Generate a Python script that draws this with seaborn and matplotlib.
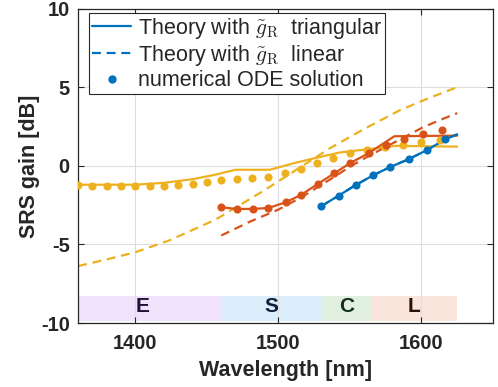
import numpy as np
import pandas as pd
import matplotlib.pyplot as plt
import seaborn as sns
from matplotlib.lines import Line2D

sns.set_theme(style="ticks")
plt.rcParams["font.family"] = ["Liberation Sans", "DejaVu Sans"]
plt.rcParams["mathtext.fontset"] = "cm"
plt.rcParams["axes.unicode_minus"] = False

# === DATA ===
# yellow (E-band start) channel
yel_ode_wl = [1360, 1370, 1380, 1390, 1400, 1410, 1420, 1430, 1440, 1450, 1460, 1471,
              1481.5, 1493, 1504.5, 1515.5, 1527, 1538, 1550, 1562, 1574.5, 1587, 1600, 1613]
yel_ode_db = [-1.2, -1.27, -1.27, -1.31, -1.31, -1.31, -1.27, -1.24, -1.14, -1.01, -0.93, -0.84,
              -0.78, -0.68, -0.46, -0.17, 0.19, 0.49, 0.8, 1.01, 1.22, 1.33, 1.5, 1.65]
yel_tri_wl = [1360, 1380, 1400, 1420, 1440, 1455, 1470, 1494, 1510, 1526, 1543, 1562, 1582, 1625]
yel_tri_db = [-1.2, -1.2, -1.2, -1.08, -0.85, -0.58, -0.25, -0.25, 0.15, 0.5, 0.85, 1.05, 1.27, 1.22]
yel_lin_wl = [1360, 1380, 1400, 1424, 1456, 1489, 1510, 1536, 1560, 1585, 1605, 1625]
yel_lin_db = [-6.37, -5.95, -5.49, -4.73, -3.42, -1.62, -0.4, 1.12, 2.35, 3.54, 4.3, 5.0]

# orange (S-band start) channel
red_ode_wl = [1460, 1471, 1482, 1493, 1505, 1516, 1527.5, 1539, 1550, 1563, 1575, 1587.5, 1601, 1614]
red_ode_db = [-2.64, -2.74, -2.74, -2.68, -2.32, -1.84, -1.15, -0.48, 0.17, 0.8, 1.3, 1.68, 2.03, 2.28]
red_tri_wl = [1460, 1471, 1482, 1493, 1505, 1516, 1527.5, 1539, 1550, 1563, 1581, 1625]
red_tri_db = [-2.64, -2.74, -2.74, -2.68, -2.32, -1.84, -1.15, -0.48, 0.17, 0.8, 1.88, 1.92]
red_lin_wl = [1460, 1480, 1500, 1516, 1527.5, 1539, 1550, 1563, 1575, 1587.5, 1601, 1614, 1625]
red_lin_db = [-4.43, -3.55, -2.78, -2.0, -1.35, -0.7, -0.05, 0.62, 1.2, 1.8, 2.45, 2.95, 3.35]

# blue (C-band start) channel
blu_ode_wl = [1530, 1542, 1554, 1566, 1578, 1591, 1604, 1616.6]
blu_ode_db = [-2.56, -1.9, -1.22, -0.61, -0.08, 0.42, 1.01, 1.69]
blu_tri_wl = [1530, 1542, 1554, 1566, 1578, 1591, 1604, 1616.6, 1625]
blu_tri_db = [-2.56, -1.9, -1.22, -0.61, -0.08, 0.42, 1.01, 1.69, 2.0]

# telecom bands
band_names = ["E", "S", "C", "L"]
band_start = [1350, 1460, 1530, 1565]
band_end = [1460, 1530, 1565, 1625]
band_fill = ["#f1e2fb", "#daedfb", "#e1f0de", "#f9e5dc"]
band_text = ["#261036", "#10203a", "#10301a", "#2a120a"]

c_blue, c_red, c_yel = "#0072BD", "#D95319", "#EDB120"

# === FIGURE ===
fig = plt.figure(figsize=(4.98, 3.87), dpi=100)
ax = fig.add_axes([0.157, 0.165, 0.833, 0.813])

# bands along the bottom
for name, x0, x1, fc, tc in zip(band_names, band_start, band_end, band_fill, band_text):
    ax.fill_between([x0, x1], -9.85, -8.27, color=fc, lw=0, zorder=0.2)
    ax.text((x0 + x1) / 2, -8.95, name, ha="center", va="center",
            fontsize=15, fontweight="bold", color=tc, zorder=1)

series = [
    (c_yel, yel_tri_wl, yel_tri_db, yel_lin_wl, yel_lin_db, yel_ode_wl, yel_ode_db),
    (c_red, red_tri_wl, red_tri_db, red_lin_wl, red_lin_db, red_ode_wl, red_ode_db),
    (c_blue, blu_tri_wl, blu_tri_db, blu_tri_wl, blu_tri_db, blu_ode_wl, blu_ode_db),
]
for col, tx, ty, lx, ly, ox, oy in series:
    sns.lineplot(x=lx, y=ly, ax=ax, color=col, lw=1.6, linestyle=(0, (4, 2.6)), zorder=2)
    sns.lineplot(x=tx, y=ty, ax=ax, color=col, lw=1.6, zorder=3)
    sns.scatterplot(x=ox, y=oy, ax=ax, color=col, s=34, linewidth=0, zorder=4)

ax.set_xlim(1360, 1650)
ax.set_ylim(-10, 10)
ax.set_xticks([1400, 1500, 1600])
ax.set_yticks([-10, -5, 0, 5, 10])
ax.grid(True, color="#dedede", lw=0.8, zorder=0.5)
ax.set_axisbelow(True)
ax.tick_params(direction="in", top=True, right=True, length=4, width=0.8,
               labelsize=14.5, colors="#262626")
ax.tick_params(axis="x", pad=8)
ax.tick_params(axis="y", pad=6)
for lab in ax.get_xticklabels() + ax.get_yticklabels():
    lab.set_fontweight("bold")
for sp in ax.spines.values():
    sp.set_color("#262626")
    sp.set_linewidth(0.9)

ax.set_xlabel("Wavelength [nm]", fontsize=15.5, fontweight="bold", color="#262626", labelpad=5)
ax.set_ylabel("SRS gain [dB]", fontsize=15.5, fontweight="bold", color="#262626", labelpad=1)

handles = [
    Line2D([], [], color=c_blue, lw=1.6),
    Line2D([], [], color=c_blue, lw=1.6, linestyle=(0, (4, 2.6))),
    Line2D([], [], color=c_blue, marker="o", ms=6, lw=0, markeredgewidth=0),
]
labels = [r"Theory with $\tilde{g}_\mathrm{R}$  triangular",
          r"Theory with $\tilde{g}_\mathrm{R}$  linear",
          "numerical ODE solution"]
leg = ax.legend(handles, labels, loc="upper left", fontsize=15.5, frameon=True, fancybox=False,
                edgecolor="#262626", framealpha=1, borderpad=0.15, labelspacing=0.1,
                handlelength=1.8, handletextpad=0.3, borderaxespad=0,
                bbox_to_anchor=(0.0265, 0.987))
leg.get_frame().set_linewidth(0.8)

fig.savefig("out.png", dpi=100)
